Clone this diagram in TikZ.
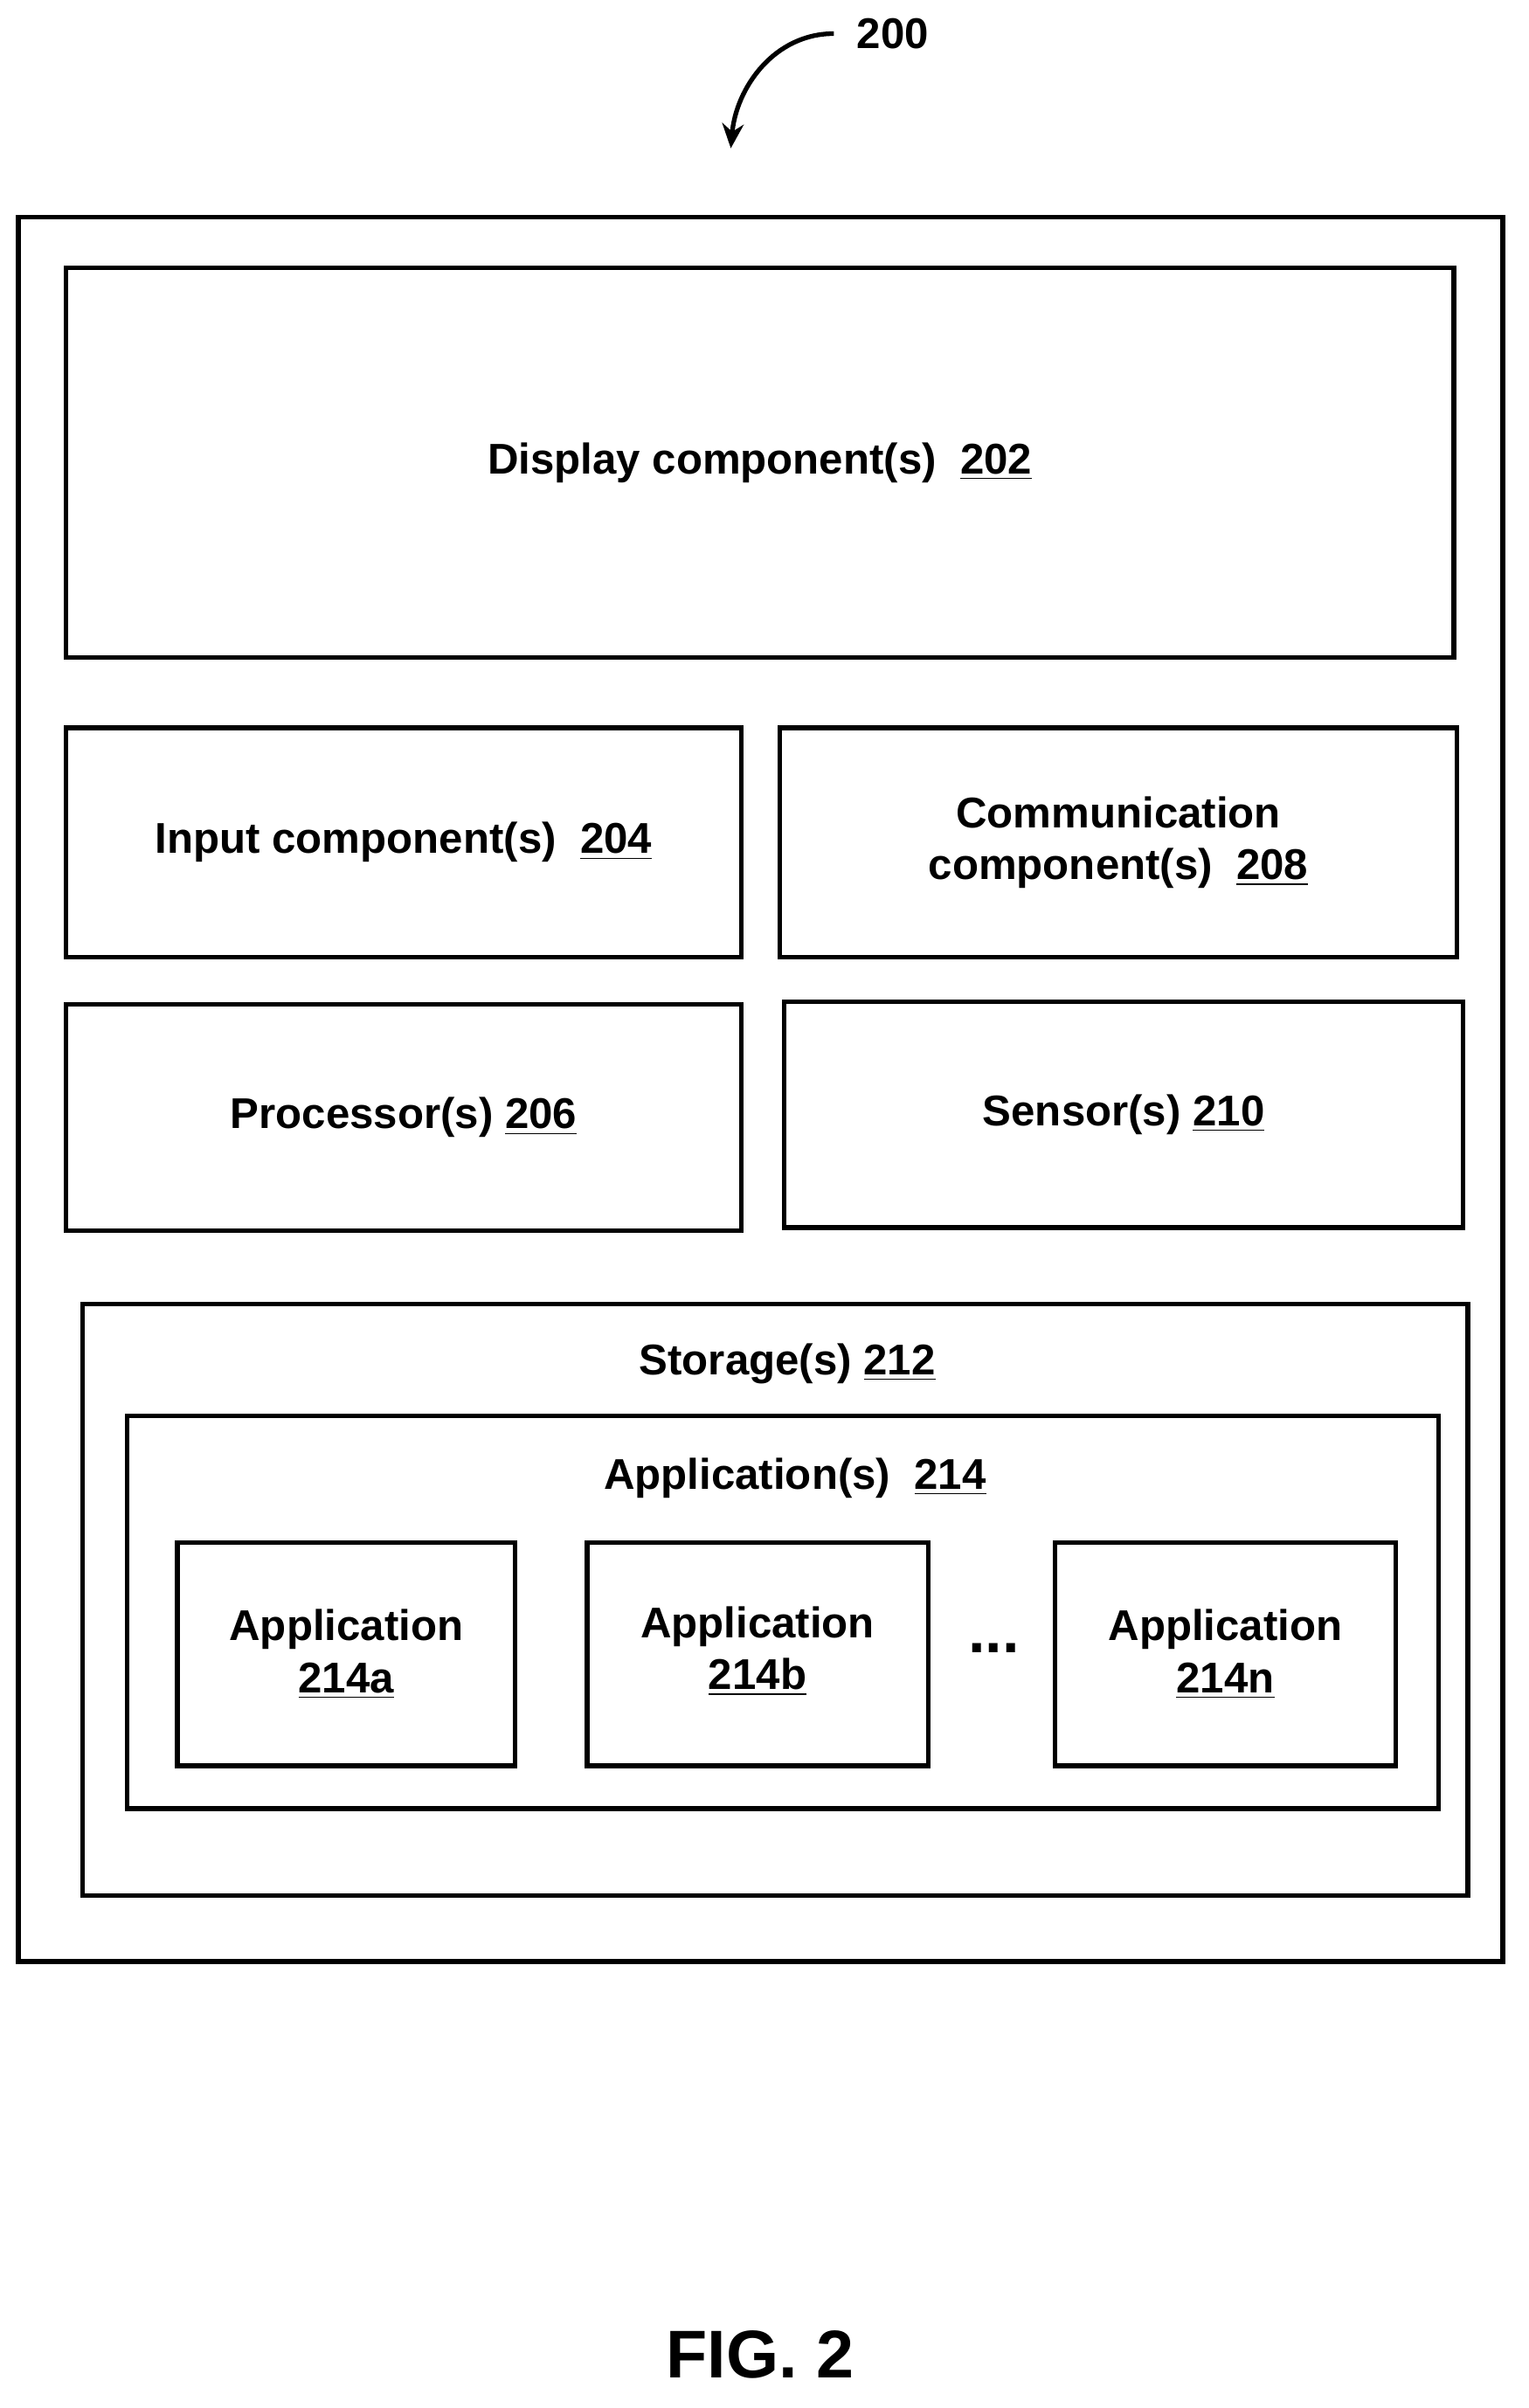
\documentclass[tikz,border=0pt]{standalone}
\usepackage{fontspec}
\setmainfont{Liberation Sans}
\usetikzlibrary{fit,arrows.meta}
\begin{document}
\begin{tikzpicture}[x=0.0175cm,y=-0.0175cm,
  box/.style={draw,line width=1.5pt,inner sep=0pt},
  lbl/.style={font=\bfseries\fontsize{14}{17}\selectfont,align=center}]
  \useasboundingbox (0,0) rectangle (1000,1575);
  % outer device
  \node[box, fit={(12,142) (983,1283)}] (dev) {};
  % components
  \node[box, fit={(43,175) (951,430)}] (disp) {};
  \node[box, fit={(43,476) (485,626)}] (inp) {};
  \node[box, fit={(510,476) (953,626)}] (comm) {};
  \node[box, fit={(43,657) (485,805)}] (proc) {};
  \node[box, fit={(513,655) (957,803)}] (sens) {};
  \node[box, fit={(54,853) (960,1240)}] (stor) {};
  \node[box, fit={(83,926) (941,1183)}] (apps) {};
  \node[box, fit={(116,1009) (337,1155)}] (appa) {};
  \node[box, fit={(384,1009) (607,1155)}] (appb) {};
  \node[box, fit={(690,1009) (913,1155)}] (appn) {};
  % text
  \node[lbl] at (disp.center) {Display component(s)\ \ \underline{202}};
  \node[lbl] at (inp.center) {Input component(s)\ \ \underline{204}};
  \node[lbl] at (comm.center) {Communication\\component(s)\ \ \underline{208}};
  \node[lbl] at (proc.center) {Processor(s) \underline{206}};
  \node[lbl] at (sens.center) {Sensor(s) \underline{210}};
  \node[lbl] (storlbl) at (515,892) {Storage(s) \underline{212}};
  \node[lbl] (appslbl) at (520,967) {Application(s)\ \ \underline{214}};
  \node[lbl] at (appa.center) {Application\\\underline{214a}};
  \node[lbl] at ([yshift=1pt]appb.center) {Application\\\underline{214b}};
  \node[lbl] at (appn.center) {Application\\\underline{214n}};
  \node[lbl,font=\bfseries\fontsize{20}{24}\selectfont] (dots) at (650,1078) {...};
  % reference numeral
  \node[lbl] (ref) at (584,22) {200};
  \coordinate (tip) at (478,97);
  \draw[line width=1.5pt,-{Stealth[length=8pt,width=7pt]}] ([xshift=-4pt]ref.west) to[out=180,in=85] (tip);
  \node[font=\bfseries\fontsize{22}{26}\selectfont] (fig) at (497,1540) {FIG. 2};
\end{tikzpicture}
\end{document}
